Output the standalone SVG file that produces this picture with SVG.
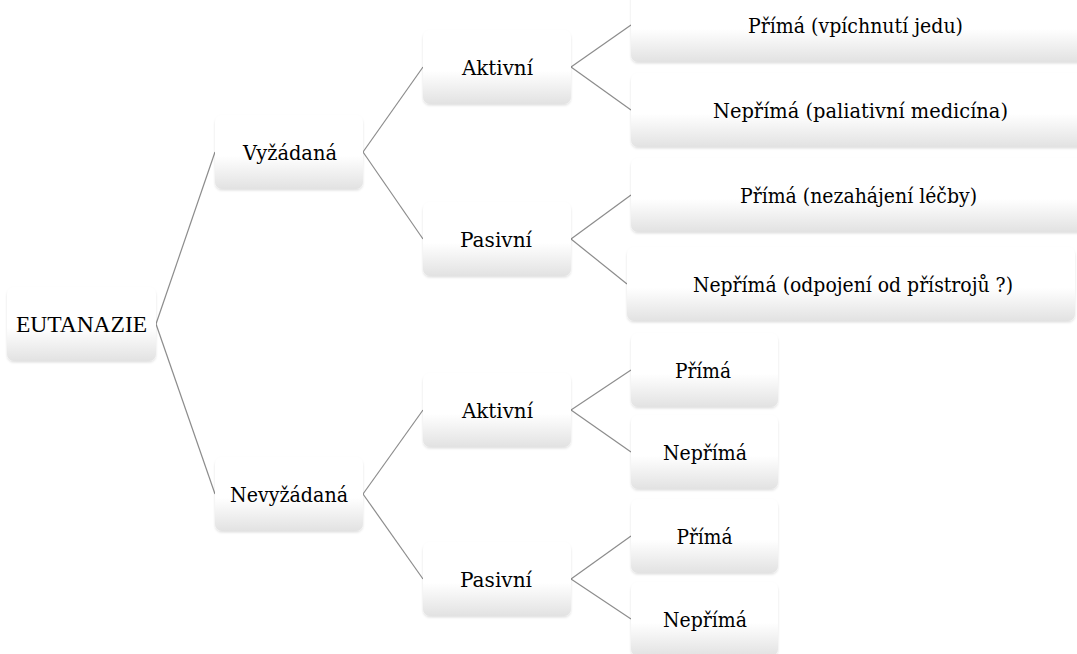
<svg xmlns="http://www.w3.org/2000/svg" width="1077" height="654" viewBox="0 0 1077 654">
<style>
.box{fill:url(#g);filter:url(#sh)}
.t{font-family:"DejaVu Serif",serif;font-size:21px;fill:#000;text-anchor:middle}
.t0{font-family:"Liberation Serif",serif;font-size:23.5px;fill:#000;text-anchor:middle}
.c line{stroke:#8c8c8c;stroke-width:1.2;fill:none}
</style>
<defs>
<linearGradient id="g" x1="0" y1="0" x2="0" y2="1">
<stop offset="0" stop-color="#ffffff"/>
<stop offset="0.55" stop-color="#ffffff"/>
<stop offset="1" stop-color="#e2e2e2"/>
</linearGradient>
<filter id="sh" x="-5%" y="-5%" width="110%" height="120%">
<feDropShadow dx="0" dy="1.5" stdDeviation="1" flood-color="#000" flood-opacity="0.12"/>
</filter>
</defs>
<rect width="1077" height="654" fill="#fff"/>
<g id="connectors" class="c">
<line x1="156" y1="324" x2="215" y2="152"/>
<line x1="156" y1="324" x2="215" y2="494"/>
<line x1="363" y1="152" x2="423" y2="67"/>
<line x1="363" y1="152" x2="423" y2="239"/>
<line x1="363" y1="494" x2="423" y2="410"/>
<line x1="363" y1="494" x2="423" y2="579"/>
<line x1="571" y1="67" x2="631" y2="25"/>
<line x1="571" y1="67" x2="631" y2="110"/>
<line x1="571" y1="239" x2="631" y2="195"/>
<line x1="571" y1="239" x2="627" y2="284"/>
<line x1="571" y1="410" x2="631" y2="370"/>
<line x1="571" y1="410" x2="631" y2="452"/>
<line x1="571" y1="579" x2="631" y2="536"/>
<line x1="571" y1="579" x2="631" y2="619"/>
</g>
<g id="n-eutanazie"><rect class="box" x="7" y="287" width="149" height="74" rx="7"/><text class="t0" x="81.5" y="332">EUTANAZIE</text></g>
<g id="n-vyzadana"><rect class="box" x="215" y="115" width="148" height="74" rx="7"/><text class="t" x="290" y="160" textLength="94" lengthAdjust="spacingAndGlyphs">Vyžádaná</text></g>
<g id="n-nevyzadana"><rect class="box" x="215" y="457" width="148" height="74" rx="7"/><text class="t" x="289" y="502" textLength="118" lengthAdjust="spacingAndGlyphs">Nevyžádaná</text></g>
<g id="n-aktivni1"><rect class="box" x="423" y="30" width="148" height="74" rx="7"/><text class="t" x="497.5" y="75" textLength="71" lengthAdjust="spacingAndGlyphs">Aktivní</text></g>
<g id="n-pasivni1"><rect class="box" x="423" y="202" width="148" height="74" rx="7"/><text class="t" x="496" y="247" textLength="72" lengthAdjust="spacingAndGlyphs">Pasivní</text></g>
<g id="n-aktivni2"><rect class="box" x="423" y="373" width="148" height="74" rx="7"/><text class="t" x="497.5" y="418" textLength="71" lengthAdjust="spacingAndGlyphs">Aktivní</text></g>
<g id="n-pasivni2"><rect class="box" x="423" y="542" width="148" height="74" rx="7"/><text class="t" x="496" y="587" textLength="72" lengthAdjust="spacingAndGlyphs">Pasivní</text></g>
<g id="n-prima1"><rect class="box" x="631" y="-12" width="457" height="74" rx="7"/><text class="t" x="855.5" y="33" textLength="215" lengthAdjust="spacingAndGlyphs">Přímá (vpíchnutí jedu)</text></g>
<g id="n-neprima1"><rect class="box" x="631" y="73" width="457" height="74" rx="7"/><text class="t" x="860.5" y="118" textLength="295" lengthAdjust="spacingAndGlyphs">Nepřímá (paliativní medicína)</text></g>
<g id="n-prima2"><rect class="box" x="631" y="158" width="457" height="74" rx="7"/><text class="t" x="858.5" y="203" textLength="237" lengthAdjust="spacingAndGlyphs">Přímá (nezahájení léčby)</text></g>
<g id="n-neprima2"><rect class="box" x="627" y="247" width="448" height="74" rx="7"/><text class="t" x="853" y="292" textLength="320" lengthAdjust="spacingAndGlyphs">Nepřímá (odpojení od přístrojů ?)</text></g>
<g id="n-prima3"><rect class="box" x="631" y="333" width="147" height="74" rx="7"/><text class="t" x="703" y="378" textLength="56" lengthAdjust="spacingAndGlyphs">Přímá</text></g>
<g id="n-neprima3"><rect class="box" x="631" y="415" width="147" height="74" rx="7"/><text class="t" x="705" y="460" textLength="84" lengthAdjust="spacingAndGlyphs">Nepřímá</text></g>
<g id="n-prima4"><rect class="box" x="631" y="499" width="147" height="74" rx="7"/><text class="t" x="704.5" y="544" textLength="56" lengthAdjust="spacingAndGlyphs">Přímá</text></g>
<g id="n-neprima4"><rect class="box" x="631" y="582" width="147" height="74" rx="7"/><text class="t" x="705" y="627" textLength="84" lengthAdjust="spacingAndGlyphs">Nepřímá</text></g>
</svg>
